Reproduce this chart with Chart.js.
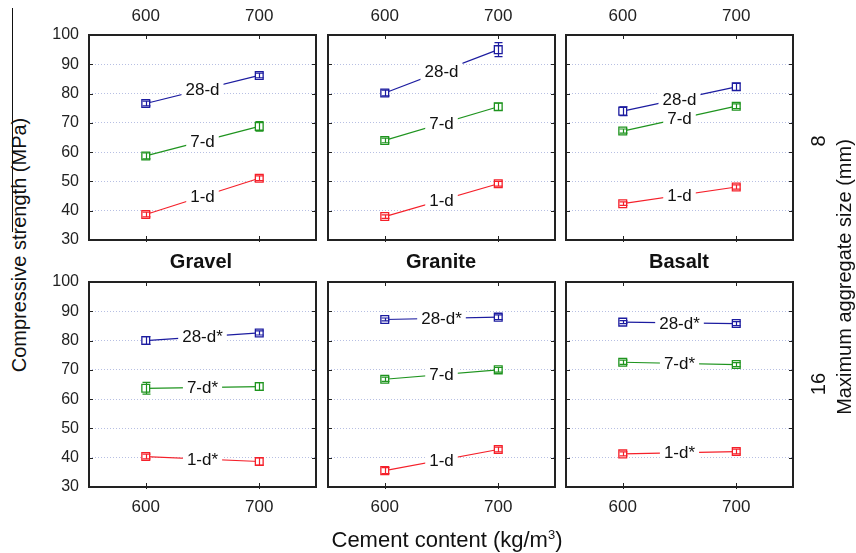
<!DOCTYPE html>
<html>
<head>
<meta charset="utf-8">
<script src="https://cdn.jsdelivr.net/npm/chart.js@4/dist/chart.umd.min.js"></script>
<style>
  body { margin: 0; background: #fff; width: 856px; height: 553px; overflow: hidden; position: relative;
    font-family: "Liberation Sans", Arial, sans-serif; color: #111; }
  canvas { position: absolute; }
  .t { position: absolute; white-space: nowrap; z-index: 2; transform: translate(-50%, -50%); }
  .rot { transform: translate(-50%, -50%) rotate(-90deg); }
  .ttl { font-weight: bold; font-size: 20px; }
  .ax { font-size: 20px; }
  .stray { position: absolute; left: 12px; top: 8px; width: 1px; height: 224px; background: #111; }
</style>
</head>
<body>
<div class="stray"></div>

<div class="t ttl" style="left:201px;top:261px">Gravel</div>
<div class="t ttl" style="left:441px;top:261px">Granite</div>
<div class="t ttl" style="left:679px;top:261px">Basalt</div>
<div class="t ax" style="left:447px;top:540px;font-size:22px">Cement content (kg/m<sup style="font-size:13px">3</sup>)</div>
<div class="t ax rot" style="left:19px;top:245px">Compressive strength (MPa)</div>
<div class="t ax rot" style="left:844px;top:277px">Maximum aggregate size (mm)</div>
<div class="t ax rot" style="left:818px;top:141px">8</div>
<div class="t ax rot" style="left:818px;top:384px">16</div>

<script>
const FONT = '"Liberation Sans", Arial, sans-serif';
const X_VALUES = [600, 700];
const X_TICKS = [600, 700];
const Y_TICKS = [30, 40, 50, 60, 70, 80, 90, 100];
const AGES = ['28-d', '7-d', '1-d'];
const AGE_COLORS = ['#1c1ca0', '#1f941f', '#f5202a'];

// rows: max aggregate size 8 mm (top), 16 mm (bottom); order of series: 28-d, 7-d, 1-d
const GRAVEL_8 = [[76.6, 86.2], [58.7, 68.8], [38.7, 51.1]];
const GRANITE_8 = [[80.2, 95.0], [64.0, 75.5], [38.0, 49.2]];
const BASALT_8 = [[74.0, 82.3], [67.2, 75.7], [42.4, 48.1]];
const GRAVEL_16 = [[80.0, 82.6], [63.7, 64.3], [40.4, 38.7]];
const GRANITE_16 = [[87.2, 88.0], [66.8, 70.0], [35.6, 42.8]];
const BASALT_16 = [[86.3, 85.8], [72.6, 71.8], [41.3, 42.1]];

const GRAVEL_8_ERR = [[0.8, 0.8], [1.0, 1.6], [0.8, 0.8]];
const GRANITE_8_ERR = [[1.0, 2.4], [0.8, 1.2], [0.6, 0.8]];
const BASALT_8_ERR = [[1.5, 1.2], [0.7, 0.8], [0.6, 0.7]];
const GRAVEL_16_ERR = [[1.3, 0.7], [2.0, 1.3], [0.8, 1.2]];
const GRANITE_16_ERR = [[0.5, 0.8], [0.7, 0.8], [1.0, 0.8]];
const BASALT_16_ERR = [[0.5, 0.7], [0.7, 0.7], [0.7, 0.8]];

const LABELS_8 = ['28-d', '7-d', '1-d'];
const GRAVEL_16_LABELS = ['28-d*', '7-d*', '1-d*'];
const GRANITE_16_LABELS = ['28-d*', '7-d', '1-d'];
const BASALT_16_LABELS = ['28-d*', '7-d*', '1-d*'];

const PANELS = [
  { row: 0, col: 0, mean: GRAVEL_8, err: GRAVEL_8_ERR, tags: LABELS_8 },
  { row: 0, col: 1, mean: GRANITE_8, err: GRANITE_8_ERR, tags: LABELS_8 },
  { row: 0, col: 2, mean: BASALT_8, err: BASALT_8_ERR, tags: LABELS_8 },
  { row: 1, col: 0, mean: GRAVEL_16, err: GRAVEL_16_ERR, tags: GRAVEL_16_LABELS },
  { row: 1, col: 1, mean: GRANITE_16, err: GRANITE_16_ERR, tags: GRANITE_16_LABELS },
  { row: 1, col: 2, mean: BASALT_16, err: BASALT_16_ERR, tags: BASALT_16_LABELS },
];

// panel frames on the page
const COL_LEFT = [89, 328, 566];
const ROW_TOP = [35, 282];
const PW = 227;
const PH = 205;
const SIDE = 45;
const EDGE = 45;

const panelPlugin = {
  id: 'panel',
  afterDatasetsDraw(chart) {
    const { ctx, chartArea: a } = chart;
    const x = chart.scales.x;
    const y = chart.scales.y;
    ctx.save();

    // error bars
    chart.data.datasets.forEach((ds) => {
      ctx.strokeStyle = ds.borderColor;
      ctx.lineWidth = 1.2;
      ds.data.forEach((p, j) => {
        const px = Math.round(x.getPixelForValue(p.x)) + 0.5;
        const t = y.getPixelForValue(p.y + ds.err[j]);
        const b = y.getPixelForValue(p.y - ds.err[j]);
        ctx.beginPath();
        ctx.moveTo(px, t); ctx.lineTo(px, b);
        ctx.moveTo(px - 4, t); ctx.lineTo(px + 4, t);
        ctx.moveTo(px - 4, b); ctx.lineTo(px + 4, b);
        ctx.stroke();
      });
    });

    // inline series labels at the middle of each line
    ctx.font = '17px ' + FONT;
    ctx.textAlign = 'center';
    ctx.textBaseline = 'middle';
    chart.data.datasets.forEach((ds) => {
      const mx = x.getPixelForValue((X_VALUES[0] + X_VALUES[1]) / 2);
      const my = y.getPixelForValue((ds.data[0].y + ds.data[1].y) / 2);
      const w = ctx.measureText(ds.tag).width + 8;
      ctx.fillStyle = '#fff';
      ctx.fillRect(mx - w / 2, my - 9, w, 18);
      ctx.fillStyle = '#111';
      ctx.fillText(ds.tag, mx, my + 1);
    });

    // inward tick marks
    ctx.strokeStyle = '#222';
    ctx.lineWidth = 1;
    ctx.beginPath();
    Y_TICKS.slice(1, -1).forEach((v) => {
      const py = Math.round(y.getPixelForValue(v)) + 0.5;
      ctx.moveTo(a.left, py); ctx.lineTo(a.left + 4, py);
      ctx.moveTo(a.right - 4, py); ctx.lineTo(a.right, py);
    });
    X_TICKS.forEach((v) => {
      const px = Math.round(x.getPixelForValue(v)) + 0.5;
      ctx.moveTo(px, a.top); ctx.lineTo(px, a.top + 4);
      ctx.moveTo(px, a.bottom - 4); ctx.lineTo(px, a.bottom + 2);
    });
    ctx.stroke();

    // frame
    ctx.strokeStyle = '#222';
    ctx.lineWidth = 2;
    ctx.strokeRect(a.left, a.top, a.right - a.left, a.bottom - a.top);
    ctx.restore();
  },
};

function xScale(position, showLabels) {
  return {
    type: 'linear',
    position,
    min: 550,
    max: 750,
    afterBuildTicks: (s) => { s.ticks = X_TICKS.map((v) => ({ value: v })); },
    afterFit: (s) => { s.height = EDGE; },
    grid: { display: false, drawTicks: false },
    border: { display: false },
    ticks: { display: showLabels, font: { family: FONT, size: 17 }, color: '#222', padding: position === 'top' ? 8 : 10 },
  };
}

function yScale(position, showLabels, showGrid) {
  return {
    type: 'linear',
    position,
    min: 30,
    max: 100,
    afterBuildTicks: (s) => { s.ticks = Y_TICKS.map((v) => ({ value: v })); },
    afterFit: (s) => { s.width = SIDE; },
    grid: { display: showGrid, color: 'rgba(165,175,220,0.8)', lineWidth: 1, drawTicks: false },
    border: { display: false, dash: [1, 2] },
    ticks: { display: showLabels, font: { family: FONT, size: 16 }, color: '#222', padding: 10 },
  };
}

PANELS.forEach((p) => {
  const canvas = document.createElement('canvas');
  canvas.width = PW + 2 * SIDE;
  canvas.height = PH + 2 * EDGE;
  canvas.style.left = (COL_LEFT[p.col] - SIDE) + 'px';
  canvas.style.top = (ROW_TOP[p.row] - EDGE) + 'px';
  document.body.appendChild(canvas);

  const datasets = AGES.map((age, i) => ({
    label: age,
    tag: p.tags[i],
    err: p.err[i],
    data: X_VALUES.map((xv, j) => ({ x: xv, y: p.mean[i][j] })),
    borderColor: AGE_COLORS[i],
    borderWidth: 1.2,
    pointStyle: 'rect',
    pointRadius: 5.5,
    pointBorderWidth: 1.3,
    pointBackgroundColor: '#fff',
    pointBorderColor: AGE_COLORS[i],
    xAxisID: 'x',
    yAxisID: 'y',
  }));

  // eslint-disable-next-line no-new
  new Chart(canvas, {
    type: 'line',
    data: { datasets },
    options: {
      responsive: false,
      animation: false,
      devicePixelRatio: 1,
      layout: { padding: 0 },
      plugins: { legend: { display: false }, tooltip: { enabled: false } },
      scales: {
        x: xScale('bottom', p.row === 1),
        xt: xScale('top', p.row === 0),
        y: yScale('left', p.col === 0, true),
        yr: yScale('right', false, false),
      },
    },
    plugins: [panelPlugin],
  });
});
</script>
</body>
</html>
